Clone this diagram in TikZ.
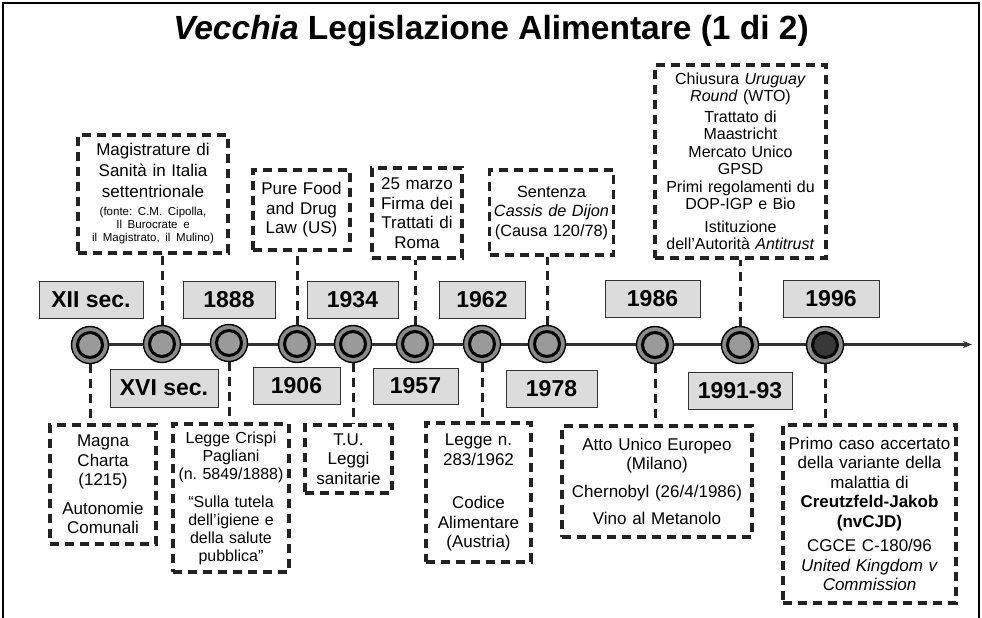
\documentclass[tikz,border=0pt]{standalone}
\usepackage{fontspec}
\setmainfont{Liberation Sans}
\usetikzlibrary{arrows.meta}
\definecolor{boxgray}{HTML}{DCDCDC}
\definecolor{ringgray}{HTML}{8A8A8A}
\definecolor{innergray}{HTML}{9A9A9A}
\definecolor{innerdark}{HTML}{383838}
\definecolor{dashgray}{HTML}{222222}
\definecolor{linegray}{HTML}{333333}
\frenchspacing
\begin{document}
\begin{tikzpicture}[x=1pt,y=-1pt,
  yearbox/.style={draw=linegray, line width=1pt, fill=boxgray,
    font=\fontsize{23}{26}\selectfont\bfseries, inner sep=0pt},
  dbox/.style={draw=dashgray, line width=3.3pt, dash pattern=on 9pt off 6pt,
    align=center, inner xsep=2pt, inner ysep=2pt,
    font=\fontsize{17}{19.5}\selectfont},
  conn/.style={draw=dashgray, line width=3pt, dash pattern=on 9pt off 6pt},
  dot/.style={circle, draw=black, line width=1.4pt, fill=ringgray,
    minimum size=37pt, inner sep=0pt,
    path picture={\draw[line width=3pt, fill=#1]
      (path picture bounding box.center) circle[radius=12.5pt];}},
  dot/.default=innergray
]
\useasboundingbox (0,0) rectangle (982,618);
\fill[white] (0,0) rectangle (982,618);
\draw[line width=1.6pt] (3,640) -- (3,3) -- (979,3) -- (979,640);

\node[font=\fontsize{33.5}{38}\selectfont\bfseries, anchor=base] (title) at (491,40)
  {\textit{Vecchia} Legislazione Alimentare (1 di 2)};

% year boxes
\node[yearbox, minimum width=104pt, minimum height=37pt] (yXII) at (91,299.5) {XII sec.};
\node[yearbox, minimum width=92pt, minimum height=37pt] (y1888) at (229,299.5) {1888};
\node[yearbox, minimum width=91pt, minimum height=37pt] (y1934) at (352.5,299.5) {1934};
\node[yearbox, minimum width=86pt, minimum height=37pt] (y1962) at (482,299.5) {1962};
\node[yearbox, minimum width=95pt, minimum height=37pt] (y1986) at (652.5,298.5) {1986};
\node[yearbox, minimum width=96pt, minimum height=37pt] (y1996) at (831,298.5) {1996};
\node[yearbox, minimum width=108pt, minimum height=38pt] (yXVI) at (164,388) {XVI sec.};
\node[yearbox, minimum width=87pt, minimum height=37pt] (y1906) at (296.5,385.5) {1906};
\node[yearbox, minimum width=85pt, minimum height=36pt] (y1957) at (415.5,386) {1957};
\node[yearbox, minimum width=91pt, minimum height=37pt] (y1978) at (551.5,388.5) {1978};
\node[yearbox, minimum width=104pt, minimum height=37pt] (y1991) at (740,390.5) {1991-93};

% dashed boxes above
\node[dbox, minimum width=150pt, minimum height=118pt, text width=146pt,
  font=\fontsize{17}{21}\selectfont] (mag) at (153,194)
  {Magistrature di\\Sanità in Italia\\settentrionale\\[-3pt]%
   \parbox[t]{146pt}{\centering\fontsize{11.5}{13}\selectfont
   (fonte: C.M. Cipolla,\\Il Burocrate e\\il Magistrato, il Mulino)}};
\node[dbox, minimum width=97pt, minimum height=80pt, text width=93pt] (pure) at (301.5,210)
  {Pure Food\\and Drug\\Law (US)};
\node[dbox, minimum width=90pt, minimum height=90pt, text width=86pt] (roma) at (417,213)
  {25 marzo\\Firma dei\\Trattati di\\Roma};
\node[dbox, minimum width=124pt, minimum height=85pt, text width=120pt,
  font=\fontsize{16.3}{19.5}\selectfont] (cassis) at (551.5,212.5)
  {Sentenza\\\textit{Cassis de Dijon}\\(Causa 120/78)};
\node[dbox, minimum width=171pt, minimum height=193pt, text width=167pt,
  font=\fontsize{16}{17.5}\selectfont] (wto) at (740.5,161.5)
  {Chiusura \textit{Uruguay}\\\textit{Round} (WTO)\\[3pt]Trattato di\\Maastricht\\Mercato Unico\\GPSD\\Primi regolamenti du\\DOP-IGP e Bio\\[5pt]Istituzione\\dell’Autorità \textit{Antitrust}};

% dashed boxes below
\node[dbox, minimum width=106pt, minimum height=119pt, text width=102pt] (magna) at (103,484.5)
  {Magna\\Charta\\(1215)\\[9pt]Autonomie\\Comunali};
\node[dbox, minimum width=116pt, minimum height=148pt, text width=112pt,
  font=\fontsize{16}{18}\selectfont] (crispi) at (231,498)
  {Legge Crispi\\Pagliani\\(n. 5849/1888)\\[10pt]“Sulla tutela\\dell’igiene e\\della salute\\pubblica”};
\node[dbox, minimum width=87pt, minimum height=68pt, text width=83pt] (tu) at (348.5,459)
  {T.U.\\Leggi\\sanitarie};
\node[dbox, minimum width=105pt, minimum height=139pt, text width=101pt] (legge) at (478.5,492.5)
  {Legge n.\\283/1962\\[24pt]Codice\\Alimentare\\(Austria)};
\node[dbox, minimum width=190pt, minimum height=111pt, text width=186pt] (atto) at (657,481.5)
  {Atto Unico Europeo\\(Milano)\\[8pt]Chernobyl (26/4/1986)\\[8pt]Vino al Metanolo};
\node[dbox, minimum width=173pt, minimum height=178pt, text width=169pt] (bse) at (869.5,514)
  {Primo caso accertato\\della variante della\\malattia di\\\textbf{Creutzfeld-Jakob}\\\textbf{(nvCJD)}\\[5pt]CGCE C-180/96\\\textit{United Kingdom v}\\\textit{Commission}};

% timeline
\coordinate (tip) at (972,344.5);
\coordinate (start) at (90,344.5);
\draw[line width=2.2pt, draw=linegray, -{Stealth[length=9pt,width=7pt]}] (start) -- (tip);

% circles
\node[dot] (c1) at (90,345) {};
\node[dot] (c2) at (162,344) {};
\node[dot] (c3) at (229,343) {};
\node[dot] (c4) at (297,344) {};
\node[dot] (c5) at (353,344) {};
\node[dot] (c6) at (415,344) {};
\node[dot] (c7) at (482,344) {};
\node[dot] (c8) at (547,344) {};
\node[dot] (c9) at (655,345) {};
\node[dot] (c10) at (740,345) {};
\node[dot=innerdark] (c11) at (825,345) {};

% connectors
\draw[conn] (c2.north) -- (c2.north |- mag.south);
\draw[conn] (c4.north) -- (c4.north |- pure.south);
\draw[conn] (c6.north) -- (c6.north |- roma.south);
\draw[conn] (c8.north) -- (c8.north |- cassis.south);
\draw[conn] (c10.north) -- (c10.north |- wto.south);
\draw[conn] (c1.south) -- (c1.south |- magna.north);
\draw[conn] (c3.south) -- (c3.south |- crispi.north);
\draw[conn] (c5.south) -- (c5.south |- tu.north);
\draw[conn] (c7.south) -- (c7.south |- legge.north);
\draw[conn] (c9.south) -- (c9.south |- atto.north);
\draw[conn] (c11.south) -- (c11.south |- bse.north);
\end{tikzpicture}
\end{document}
